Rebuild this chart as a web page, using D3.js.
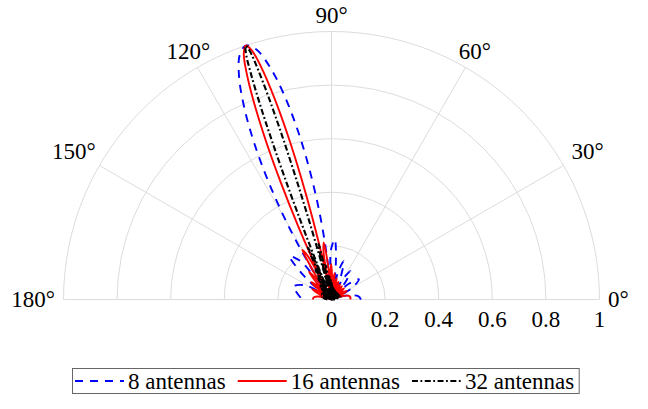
<!DOCTYPE html>
<html><head><meta charset="utf-8">
<script src="https://cdn.jsdelivr.net/npm/d3@7"></script>
<style>
body{margin:0;background:#fff}
svg text{font-family:"Liberation Serif",serif}
</style>
</head><body>
<svg id="c" width="648" height="409"></svg>
<script>
// ---- data ----
const seriesNames = ["8 antennas", "16 antennas", "32 antennas"];
const angleTicks = [0, 30, 60, 90, 120, 150, 180];
const radiusTicks = [0, 0.2, 0.4, 0.6, 0.8, 1];
const radiusTickLabels = ["0", "0.2", "0.4", "0.6", "0.8", "1"];

const theta8 = [0,7.02,16.00,21.57,26.01,29.83,36.39,42.06,44.66,47.16,49.55,51.87,56.29,60.50,62.53,64.53,66.50,68.44,72.24,75.97,77.80,79.63,81.45,83.25,86.85,90.43,92.22,94.01,95.81,97.61,99.43,101.25,103.08,104.92,106.78,108.66,110.56,112.49,114.44,116.42,118.44,120.50,122.60,124.75,126.96,129.24,134.03,139.24,142.07,145.08,148.35,151.95,160.91,167.49,180];
const r8 = [0.110,0.100,0.053,0,0.051,0.092,0.127,0.089,0.048,0,0.048,0.089,0.127,0.092,0.051,0,0.053,0.100,0.150,0.114,0.065,0,0.071,0.139,0.225,0.188,0.112,0,0.142,0.305,0.475,0.641,0.787,0.902,0.975,1,0.975,0.902,0.787,0.641,0.475,0.305,0.142,0,0.112,0.188,0.225,0.139,0.071,0,0.065,0.114,0.150,0.135,0.110];

const theta16 = [0,7.02,12.35,16.00,18.98,
 21.57,23.88,26.01,29.83,33.25,34.86,
 36.39,37.87,39.31,42.06,44.66,45.92,
 47.16,48.37,49.55,51.87,54.11,55.21,
 56.29,57.36,58.42,60.50,62.53,63.54,
 64.53,65.52,66.50,68.44,70.35,71.30,
 72.24,73.18,74.11,75.97,77.80,78.72,
 79.63,80.54,81.45,83.25,85.05,85.95,
 86.85,87.74,88.64,90.43,92.22,93.12,
 94.01,94.91,95.81,97.61,99.43,100.33,
 101.25,102.16,103.08,104.00,104.92,105.85,106.78,107.72,
 108.66,
 109.61,110.56,111.52,112.49,113.46,114.44,115.43,116.42,
 117.43,118.44,120.50,122.60,123.67,124.75,
 125.85,126.96,129.24,131.59,132.80,134.03,
 135.29,136.58,139.24,142.07,143.55,145.08,
 146.68,148.35,151.95,156.03,158.34,160.91,
 163.87,167.49,172.69,180];
const r16 = [0.070,0.071,0.065,0.049,0.026,
 0,0.025,0.047,0.065,0.046,0.025,
 0,0.024,0.045,0.063,0.044,0.024,
 0,0.024,0.044,0.063,0.045,0.024,
 0,0.025,0.046,0.065,0.047,0.025,
 0,0.026,0.049,0.071,0.051,0.028,
 0,0.030,0.055,0.081,0.058,0.031,
 0,0.035,0.066,0.099,0.074,0.042,
 0,0.045,0.086,0.133,0.103,0.059,
 0,0.067,0.131,0.215,0.182,0.109,
 0,0.140,0.301,0.472,0.638,0.785,0.901,0.975,
 1,
 0.975,0.901,0.785,0.638,0.472,0.301,0.140,0,
 0.109,0.182,0.215,0.131,0.067,0,
 0.059,0.103,0.133,0.086,0.045,0,
 0.042,0.074,0.099,0.066,0.035,0,
 0.031,0.058,0.081,0.055,0.030,0,
 0.028,0.052,0.066,0.070];

const theta32 = [0,
 7.02,12.35,16.00,18.98,21.57,23.88,26.01,27.97,29.83,
 31.58,33.25,34.86,36.39,37.87,39.31,40.70,42.06,
 43.37,44.66,45.92,47.16,48.37,49.55,50.72,51.87,
 53.00,54.11,55.21,56.29,57.36,58.42,59.46,60.50,
 61.52,62.53,63.54,64.53,65.52,66.50,67.47,68.44,
 69.40,70.35,71.30,72.24,73.18,74.11,75.04,75.97,
 76.89,77.80,78.72,79.63,80.54,81.45,82.35,83.25,
 84.15,85.05,85.95,86.85,87.74,88.64,89.53,90.43,
 91.33,92.22,93.12,94.01,94.91,95.81,96.71,97.61,
 98.52,99.43,100.33,101.25,102.16,103.08,104.00,104.92,
 105.39,105.85,106.32,106.78,107.25,107.72,108.19,
 108.66,
 109.14,109.61,110.09,110.56,111.04,111.52,112.01,112.49,
 113.46,114.44,115.43,116.42,117.43,118.44,119.46,120.50,
 121.54,122.60,123.67,124.75,125.85,126.96,128.09,129.24,
 130.40,131.59,132.80,134.03,135.29,136.58,137.89,139.24,
 140.63,142.07,143.55,145.08,146.68,148.35,150.10,151.95,
 153.91,156.03,158.34,160.91,163.87,167.49,172.69,
 180];
const r32 = [0.013,
 0,0.025,0.035,0.024,0,0.024,0.033,0.023,0,
 0.023,0.032,0.023,0,0.023,0.032,0.022,0,
 0.022,0.031,0.022,0,0.022,0.031,0.022,0,
 0.022,0.032,0.023,0,0.023,0.032,0.023,0,
 0.023,0.033,0.024,0,0.024,0.035,0.025,0,
 0.025,0.036,0.026,0,0.027,0.039,0.028,0,
 0.029,0.042,0.030,0,0.032,0.047,0.034,0,
 0.036,0.053,0.038,0,0.042,0.061,0.045,0,
 0.050,0.073,0.054,0,0.061,0.093,0.070,0,
 0.083,0.129,0.101,0,0.129,0.213,0.181,0,
 0.139,0.300,0.471,0.637,0.785,0.901,0.975,
 1,
 0.975,0.901,0.785,0.637,0.471,0.300,0.139,0,
 0.181,0.213,0.129,0,0.101,0.129,0.083,0,
 0.070,0.093,0.061,0,0.054,0.073,0.050,0,
 0.045,0.061,0.042,0,0.038,0.053,0.036,0,
 0.034,0.047,0.032,0,0.030,0.042,0.029,0,
 0.028,0.039,0.027,0,0.026,0.036,0.025,
 0.013];

const seriesThetas = [theta8, theta16, theta32];
const seriesRadii = [r8, r16, r32];
const seriesColors = ["#0000ff", "#ff0000", "#000000"];
const seriesDash = ["8,7", null, "6,2.5,1.8,2.5"];

// ---- layout ----
const cx = 331.5, cy = 299.5, R = 268, FS = 23;
const adv = {"0":0.5,"1":0.5,"2":0.5,"3":0.5,"4":0.5,"5":0.5,"6":0.5,"7":0.5,"8":0.5,"9":0.5,
  "°":0.4,".":0.25," ":0.25,"a":0.444,"n":0.5,"t":0.278,"e":0.444,"s":0.389};
const textW = s => Array.from(s).reduce((w, ch) => w + (adv[ch] || 0.5), 0) * FS;

const svg = d3.select("#c");
const rScale = d3.scaleLinear().domain([0, 1]).range([0, R]);
const aScale = d3.scaleLinear().domain([0, 180]).range([Math.PI / 2, -Math.PI / 2]);

const g = svg.append("g").attr("transform", `translate(${cx},${cy})`);
const grid = g.append("g").attr("fill", "none").attr("stroke", "#dcdcdc").attr("stroke-width", 1);
radiusTicks.filter(v => v > 0).forEach(v => {
  const p = d3.path();
  const r = rScale(v);
  p.moveTo(-r, 0);
  p.arc(0, 0, r, Math.PI, 2 * Math.PI);
  grid.append("path").attr("d", p.toString());
});
angleTicks.forEach(a => {
  const rad = a * Math.PI / 180;
  grid.append("line").attr("x1", 0).attr("y1", 0)
    .attr("x2", rScale(1) * Math.cos(rad)).attr("y2", -rScale(1) * Math.sin(rad));
});

const line = d3.lineRadial()
  .angle(d => aScale(d[0]))
  .radius(d => rScale(d[1]))
  .curve(d3.curveCatmullRom.alpha(0.5));

seriesNames.forEach((name, i) => {
  const pts = seriesThetas[i].map((t, j) => [t, seriesRadii[i][j]]);
  const p = g.append("path").datum(pts).attr("d", line)
    .attr("fill", "none").attr("stroke", seriesColors[i])
    .attr("stroke-width", i === 2 ? 2.1 : 1.9)
    .attr("stroke-linejoin", "round");
  if (seriesDash[i]) p.attr("stroke-dasharray", seriesDash[i]);
});

function txt(parent, s) {
  return parent.append("text").attr("class", "lbl").attr("font-size", FS)
    .style("font-family", "Liberation Serif").text(s);
}

// angle tick labels
const labels = svg.append("g");
const pad = 3.5, bh = 26;
angleTicks.forEach(a => {
  const s = a + "°";
  const bw = textW(s) + 10;
  const rad = a * Math.PI / 180;
  const Px = cx + (R + pad) * Math.cos(rad), Py = cy - (R + pad) * Math.sin(rad);
  const d = rad + Math.PI, dx = Math.cos(d), dy = Math.sin(d);
  const tt = Math.min(Math.abs(dx) > 1e-9 ? (bw / 2) / Math.abs(dx) : Infinity,
                      Math.abs(dy) > 1e-9 ? (bh / 2) / Math.abs(dy) : Infinity);
  const ccx = Px - tt * dx, ccy = Py + tt * dy;
  txt(labels, s).attr("text-anchor", "middle").attr("x", ccx).attr("y", ccy + 0.338 * FS);
});
// radius tick labels
radiusTicks.forEach((v, i) => {
  txt(labels, radiusTickLabels[i]).attr("text-anchor", "middle")
    .attr("x", cx + rScale(v)).attr("y", cy + 19.5 + 0.338 * FS);
});

// legend
const lg = svg.append("g");
const box = lg.append("rect").attr("x", 72.5).attr("y", 368.5).attr("height", 25)
  .attr("fill", "#fff").attr("stroke", "#666").attr("stroke-width", 1);
let x = 75;
const ly = 381;
seriesNames.forEach((name, i) => {
  const l = lg.append("line").attr("x1", x).attr("x2", x + 49).attr("y1", ly).attr("y2", ly)
    .attr("stroke", seriesColors[i]).attr("stroke-width", i === 2 ? 2.1 : 1.9);
  if (seriesDash[i]) l.attr("stroke-dasharray", seriesDash[i]);
  x += 49 + 4;
  txt(lg, name).attr("x", x).attr("y", ly + 0.338 * FS);
  x += textW(name) + 12;
});
box.attr("width", x - 12 + 5 - 72.5);

// re-apply the serif family once the system font has been resolved
if (document.fonts && document.fonts.load) {
  document.fonts.load(FS + 'px "Liberation Serif"', "8 antennas 0.2°").then(() => {
    d3.selectAll("text.lbl").style("font-family", null).style("font-family", '"Liberation Serif", serif');
  }).catch(() => {});
}
</script>
</body></html>
